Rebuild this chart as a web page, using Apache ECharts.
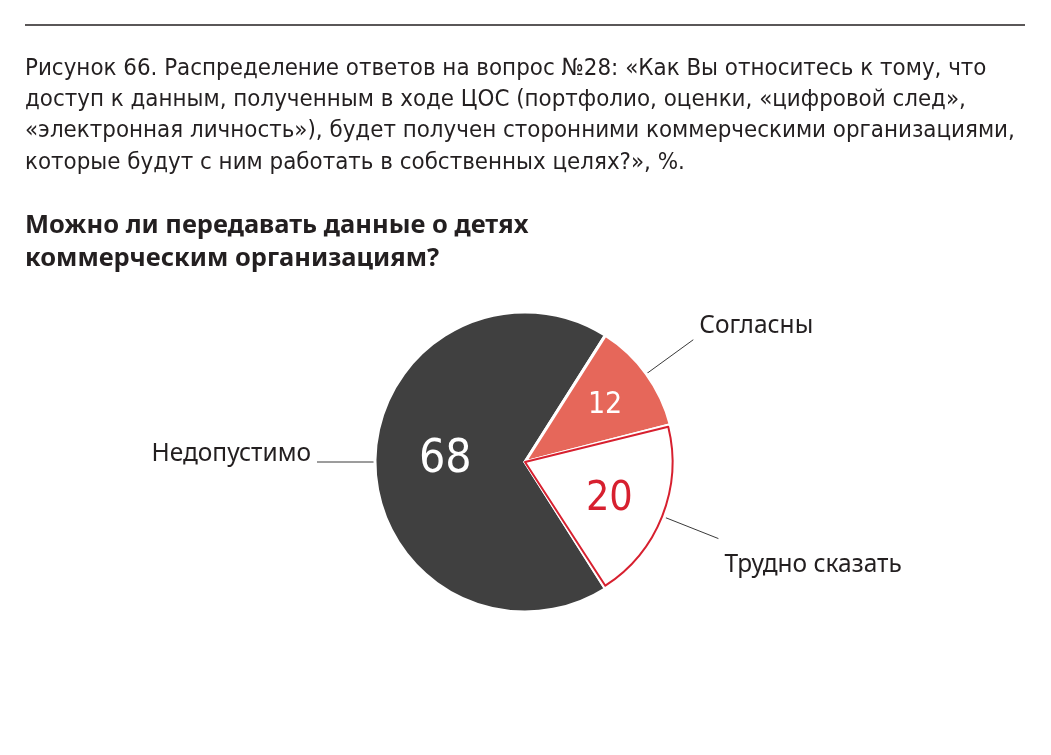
<!DOCTYPE html>
<html>
<head>
<meta charset="utf-8">
<script src="https://cdn.jsdelivr.net/npm/echarts@6/dist/echarts.min.js"></script>
<style>
  html, body { margin: 0; padding: 0; background: #ffffff; }
  #chart { width: 1051px; height: 755px; }
</style>
</head>
<body>
<div id="chart"></div>
<script>
// ---- data ----
const captionLines = [
  'Рисунок 66. Распределение ответов на вопрос №28: «Как Вы относитесь к тому, что',
  'доступ к данным, полученным в ходе ЦОС (портфолио, оценки, «цифровой след»,',
  '«электронная личность»), будет получен сторонними коммерческими организациями,',
  'которые будут с ним работать в собственных целях?», %.'
];
const headingLines = [
  'Можно ли передавать данные о детях',
  'коммерческим организациям?'
];
const categories = ['Недопустимо', 'Согласны', 'Трудно сказать'];
const values = [68, 12, 20];

// ---- styles (kept apart from data) ----
const NARROW = "'DejaVu Sans Condensed', 'Liberation Sans Narrow', 'Arial Narrow', sans-serif";
const sliceColors = ['#404040', '#e6675a', '#ffffff'];
const valueColors = ['#ffffff', '#ffffff', '#d7202f'];
const valueSizes = [46, 30, 41];
const valueOffsets = [[-3, -2], [18, -12], [13, 9]];
// vertical shift of outer labels relative to the label line end (via blank line)
const outerShift = [['after', 16], ['after', 28], ['before', 52]];
const CENTER = [525, 462];

const chart = echarts.init(document.getElementById('chart'), null, { renderer: 'canvas' });

const option = {
  backgroundColor: '#ffffff',
  animation: false,
  title: [
    {
      text: captionLines.join('\n'),
      left: 25,
      top: 53,
      padding: 0,
      textStyle: {
        fontFamily: NARROW,
        fontWeight: 'normal',
        fontSize: 23.85,
        lineHeight: 31.3,
        color: '#231f20'
      }
    },
    {
      text: headingLines.join('\n'),
      left: 25,
      top: 209,
      padding: 0,
      textStyle: {
        fontFamily: 'Noto Sans',
        fontWeight: 'bold',
        fontSize: 25.5,
        lineHeight: 33,
        color: '#231f20'
      }
    }
  ],
  graphic: [
    {
      type: 'line',
      shape: { x1: 25, y1: 25, x2: 1025, y2: 25 },
      style: { stroke: '#231f20', lineWidth: 1.5 },
      silent: true
    }
  ],
  series: [
    {
      type: 'pie',
      center: CENTER,
      radius: 150,
      startAngle: -57.6,
      clockwise: true,
      avoidLabelOverlap: false,
      silent: true,
      itemStyle: { borderColor: '#ffffff', borderWidth: 3 },
      label: {
        show: true,
        position: 'outside',
        fontFamily: 'Noto Sans',
        fontSize: 24.5,
        color: '#231f20',
        distanceToLabelLine: 6
      },
      labelLine: {
        show: true,
        length: 58,
        length2: 0,
        smooth: false,
        lineStyle: { color: '#3a3a3a', width: 1 }
      },
      data: categories.map((name, i) => ({
        name: name,
        value: values[i],
        itemStyle: { color: sliceColors[i] },
        label: {
          lineHeight: outerShift[i][1],
          formatter: outerShift[i][0] === 'after' ? '{b}\n ' : ' \n{b}'
        }
      }))
    },
    {
      type: 'pie',
      center: CENTER,
      radius: [0, 147.5],
      startAngle: -57.6,
      clockwise: true,
      padAngle: 1.2,
      avoidLabelOverlap: false,
      silent: true,
      z: 3,
      label: {
        show: true,
        position: 'inside',
        formatter: '{c}',
        fontFamily: NARROW
      },
      labelLine: { show: false },
      data: categories.map((name, i) => ({
        name: name,
        value: values[i],
        itemStyle: i === 2
          ? { color: 'rgba(0,0,0,0)', borderColor: '#d7202f', borderWidth: 2 }
          : { color: 'rgba(0,0,0,0)', borderWidth: 0 },
        label: {
          color: valueColors[i],
          fontSize: valueSizes[i],
          offset: valueOffsets[i]
        }
      }))
    }
  ]
};

chart.setOption(option);
</script>
</body>
</html>
